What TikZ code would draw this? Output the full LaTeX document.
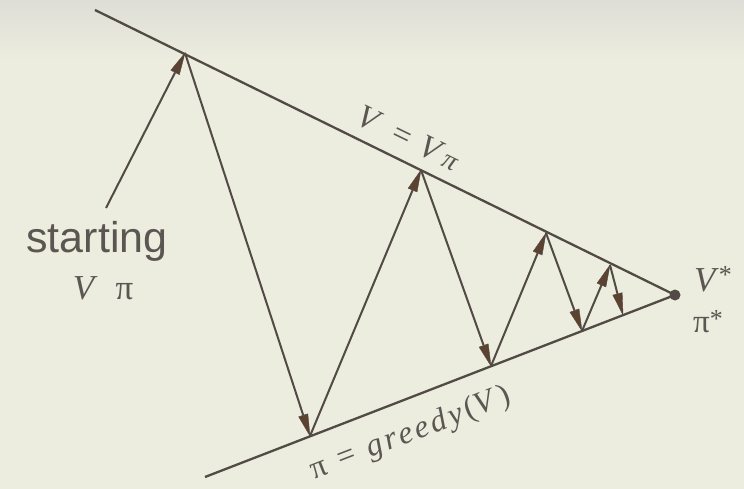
\documentclass[tikz,border=0pt]{standalone}
\usepackage{fontspec}
\setmainfont{Liberation Serif}
\newfontfamily\labsans{Liberation Sans}
\newfontfamily\spacedit[LetterSpace=10]{Liberation Serif}
\usetikzlibrary{arrows.meta,calc}
\definecolor{bgc}{RGB}{236,236,223}
\definecolor{bgtop}{RGB}{222,222,214}
\definecolor{linec}{RGB}{82,74,68}
\definecolor{headc}{RGB}{92,66,48}
\definecolor{txtc}{RGB}{92,86,82}
\tikzset{
  edge/.style={draw=linec, line width=2.3pt},
  arr/.style={draw=linec, line width=2pt, -{Triangle[length=23pt,width=10pt,fill=headc,line width=0.4pt]}, shorten >=-1pt},
  lab/.style={text=txtc, inner sep=0pt},
}
\begin{document}
\begin{tikzpicture}[x=1pt,y=-1pt]
\fill[bgc] (0,0) rectangle (744,489);
\shade[top color=bgtop, bottom color=bgc, draw=none] (0,0) rectangle (744,60);
\useasboundingbox (0,0) rectangle (744,489);

% apex and line ends
\coordinate (A) at (675,295);
\coordinate (T0) at (95,10);
\coordinate (B0) at (205,477);
% upper vertices
\coordinate (U1) at (185,53);
\coordinate (U2) at (421,170);
\coordinate (U3) at (546,233);
\coordinate (U4) at (610,265);
% lower vertices
\coordinate (L1) at (310,436);
\coordinate (L2) at (491,366);
\coordinate (L3) at (582,331);
\coordinate (L4) at (623,315);
\coordinate (S) at (106,208);

\draw[edge] (T0) -- (A);
\draw[edge] (B0) -- (A);
\fill[linec] (A) circle (5.5pt);

\draw[arr] (S) -- (U1);
\draw[arr] (U1) -- (L1);
\draw[arr] (L1) -- (U2);
\draw[arr] (U2) -- (L2);
\draw[arr] (L2) -- (U3);
\draw[arr] (U3) -- (L3);
\draw[arr] (L3) -- (U4);
\draw[arr] (U4) -- (L4);

\node[lab, font=\labsans\fontsize{43}{43}\selectfont] (st) at (97,241) {starting};
\node[lab, font=\fontsize{35}{35}\selectfont] (vpi) at (103,288) {\textit{V}\hspace{18pt}π};
\node[lab, font=\spacedit\fontsize{33}{33}\selectfont, rotate=-26] (veq) at (410,139) {\textit{V}\hspace{12pt}=\hspace{12pt}\textit{V}{\fontsize{28}{28}\selectfont\textit{π}}};
\node[lab, font=\spacedit\fontsize{32}{32}\selectfont, rotate=21.2] (gr) at (411,434) {π\hspace{13pt}=\hspace{13pt}\textit{greedy}(\textit{V})};
\node[lab, font=\fontsize{35}{35}\selectfont, anchor=west] (vs) at (694,279) {\textit{V}\raisebox{8pt}{\fontsize{26}{26}\selectfont *}};
\node[lab, font=\fontsize{33}{33}\selectfont, anchor=west] (ps) at (693,322) {π\raisebox{5pt}{\fontsize{26}{26}\selectfont *}};
\end{tikzpicture}
\end{document}
